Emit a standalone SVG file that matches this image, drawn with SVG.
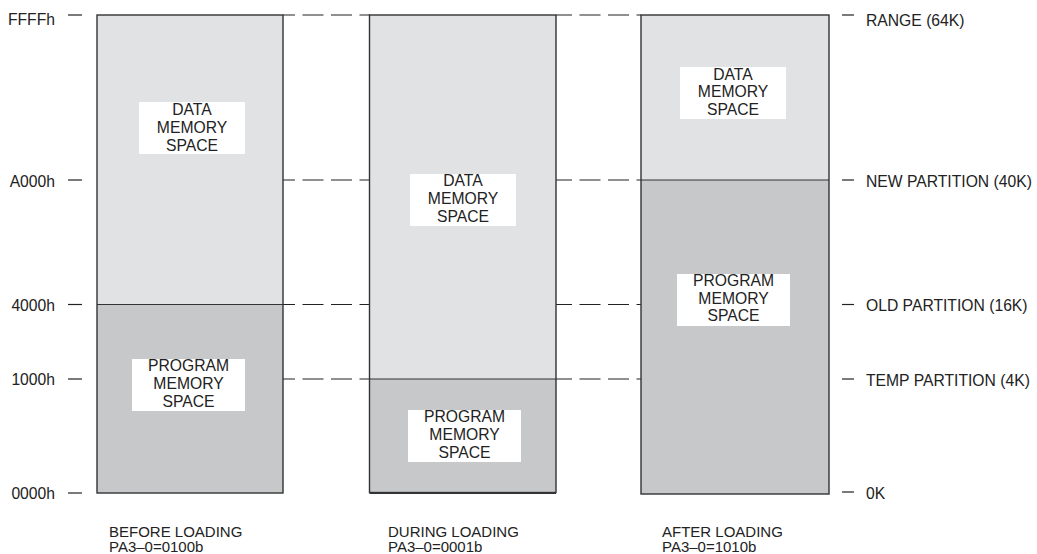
<svg xmlns="http://www.w3.org/2000/svg" width="1037" height="554" viewBox="0 0 1037 554">
<style>
text{font-family:"Liberation Sans",Arial,sans-serif;font-size:15.7px;fill:#222}
.c{text-anchor:middle}
.e{text-anchor:end}
.cap{font-size:15px}
.data{fill:#e1e2e4}
.prog{fill:#c7c8ca}
.frame{fill:none;stroke:#333;stroke-width:1.4}
.div{stroke:#333;stroke-width:1.2}
.lbl{fill:#fff}
.tick{stroke:#222;stroke-width:1.2}
.dash{stroke:#222;stroke-width:1.2;stroke-dasharray:21 7.5;fill:none}
</style>
<rect width="1037" height="554" fill="#fff"/>
<g id="connectors">
<line class="tick" x1="68" y1="15" x2="82" y2="15"/>
<line class="tick" x1="68" y1="180" x2="82" y2="180"/>
<line class="tick" x1="68" y1="304.5" x2="82" y2="304.5"/>
<line class="tick" x1="68" y1="379" x2="82" y2="379"/>
<line class="tick" x1="68" y1="493" x2="82" y2="493"/>
<line class="tick" x1="842" y1="15" x2="854" y2="15"/>
<line class="tick" x1="842" y1="180" x2="854" y2="180"/>
<line class="tick" x1="842" y1="304.5" x2="854" y2="304.5"/>
<line class="tick" x1="842" y1="379" x2="854" y2="379"/>
<line class="tick" x1="842" y1="492" x2="854" y2="492"/>
<path class="dash" style="stroke-dashoffset:9" d="M283 15H370M283 180H370M283 304.5H370M283 379H370"/>
<path class="dash" style="stroke-dashoffset:5" d="M556 15H641M556 180H641M556 304.5H641M556 379H641"/>
</g>
<g id="axis-left">
<text class="e" x="55" y="25">FFFFh</text>
<text class="e" x="55" y="187">A000h</text>
<text class="e" x="55" y="311">4000h</text>
<text class="e" x="55" y="385">1000h</text>
<text class="e" x="55" y="499">0000h</text>
</g>
<g id="axis-right">
<text x="866" y="26">RANGE (64K)</text>
<text x="866" y="187">NEW PARTITION (40K)</text>
<text x="866" y="311">OLD PARTITION (16K)</text>
<text x="866" y="386">TEMP PARTITION (4K)</text>
<text x="866" y="499">0K</text>
</g>
<g id="before-loading">
<rect class="data" x="97" y="15" width="186" height="289.5"/>
<rect class="prog" x="97" y="304.5" width="186" height="188.5"/>
<line class="div" x1="97" y1="304.5" x2="283" y2="304.5"/>
<rect class="frame" x="97" y="15" width="186" height="478"/>
<rect class="lbl" x="139" y="102" width="106" height="52"/>
<text class="c" x="192" y="115">DATA</text>
<text class="c" x="192" y="133">MEMORY</text>
<text class="c" x="192" y="150.5">SPACE</text>
<rect class="lbl" x="132" y="359" width="113" height="52"/>
<text class="c" x="188.5" y="371">PROGRAM</text>
<text class="c" x="188.5" y="389">MEMORY</text>
<text class="c" x="188.5" y="407">SPACE</text>
<text class="cap" x="109" y="536.5">BEFORE LOADING</text>
<text class="cap" x="109" y="551.5">PA3–0=0100b</text>
</g>
<g id="during-loading">
<rect class="data" x="369.5" y="15" width="186.5" height="364"/>
<rect class="prog" x="369.5" y="379" width="186.5" height="113.5"/>
<line class="div" x1="369.5" y1="379" x2="556" y2="379"/>
<rect class="frame" x="369.5" y="15" width="186.5" height="477.5"/>
<line stroke="#333" stroke-width="1" x1="369.5" y1="493.5" x2="556" y2="493.5"/>
<rect class="lbl" x="410" y="174" width="106" height="52"/>
<text class="c" x="463" y="186">DATA</text>
<text class="c" x="463" y="204">MEMORY</text>
<text class="c" x="463" y="222">SPACE</text>
<rect class="lbl" x="408" y="410" width="113" height="52"/>
<text class="c" x="464.5" y="422">PROGRAM</text>
<text class="c" x="464.5" y="440">MEMORY</text>
<text class="c" x="464.5" y="458">SPACE</text>
<text class="cap" x="388" y="536.5">DURING LOADING</text>
<text class="cap" x="388" y="551.5">PA3–0=0001b</text>
</g>
<g id="after-loading">
<rect class="data" x="641" y="15" width="188" height="165"/>
<rect class="prog" x="641" y="180" width="188" height="314"/>
<line class="div" x1="641" y1="180" x2="829" y2="180"/>
<rect class="frame" x="641" y="15" width="188" height="479"/>
<rect class="lbl" x="680" y="67" width="106" height="52"/>
<text class="c" x="733" y="79.5">DATA</text>
<text class="c" x="733" y="97">MEMORY</text>
<text class="c" x="733" y="114.5">SPACE</text>
<rect class="lbl" x="677" y="274" width="113" height="52"/>
<text class="c" x="733.5" y="286">PROGRAM</text>
<text class="c" x="733.5" y="303.5">MEMORY</text>
<text class="c" x="733.5" y="321">SPACE</text>
<text class="cap" x="662" y="536.5">AFTER LOADING</text>
<text class="cap" x="662" y="551.5">PA3–0=1010b</text>
</g>
</svg>
